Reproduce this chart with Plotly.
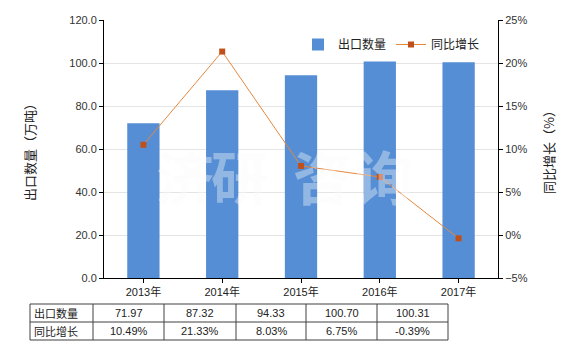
import plotly.graph_objects as go

years = ["2013年", "2014年", "2015年", "2016年", "2017年"]
export_qty = [71.97, 87.32, 94.33, 100.70, 100.31]
growth = [10.49, 21.33, 8.03, 6.75, -0.39]
qty_labels = ["71.97", "87.32", "94.33", "100.70", "100.31"]
growth_labels = ["10.49%", "21.33%", "8.03%", "6.75%", "-0.39%"]
row_names = ["出口数量", "同比增长"]

W, H = 580, 350
L, R, T, B = 104, 82, 20, 72
PW, PH = W - L - R, H - T - B

def px(x):
    return (x - L) / PW

def py(y):
    return (H - B - y) / PH

FONT = "Liberation Sans, Noto Sans CJK SC, sans-serif"
BAR = "#558ED5"
LINE = "#E6883C"
MARK = "#C0501A"

fig = go.Figure()
fig.add_trace(go.Bar(x=years, y=export_qty, name="出口数量", marker_color=BAR,
                     marker_line_width=0, yaxis="y"))
fig.add_trace(go.Scatter(x=years, y=growth, name="同比增长", mode="lines+markers",
                         line=dict(color=LINE, width=1),
                         marker=dict(symbol="square", size=6, color=MARK),
                         yaxis="y2"))

annotations = []
# watermark
for ch, cx in zip("济研咨询", [155, 240, 322, 414]):
    annotations.append(dict(text="<b>" + ch + "</b>", x=px(cx), y=py(175), xref="paper", yref="paper",
                            showarrow=False, borderpad=0,
                            font=dict(family="Noto Sans CJK SC", size=58,
                                      color="rgba(250,250,250,0.38)")))

# table
shapes = []
cols = [30, 93, 164, 236, 306, 377, 448]
rows = [304, 322, 340]
for y in rows:
    shapes.append(dict(type="line", xref="paper", yref="paper", x0=px(cols[0]), x1=px(cols[-1]),
                       y0=py(y), y1=py(y), line=dict(color="#404040", width=1)))
for x in cols:
    shapes.append(dict(type="line", xref="paper", yref="paper", x0=px(x), x1=px(x),
                       y0=py(rows[0]), y1=py(rows[-1]), line=dict(color="#404040", width=1)))

for ri, (name, vals) in enumerate(zip(row_names, [qty_labels, growth_labels])):
    yc = (rows[ri] + rows[ri + 1]) / 2
    annotations.append(dict(text=name, x=px(cols[0] + 2), y=py(yc), xref="paper", yref="paper",
                            xanchor="left", yanchor="middle", showarrow=False,
                            font=dict(family=FONT, size=11, color="#222")))
    for ci, v in enumerate(vals):
        xc = (cols[ci + 1] + cols[ci + 2]) / 2
        annotations.append(dict(text=v, x=px(xc), y=py(yc), xref="paper", yref="paper",
                                xanchor="center", yanchor="middle", showarrow=False,
                                font=dict(family=FONT, size=11, color="#222")))

fig.update_layout(
    width=W, height=H,
    margin=dict(l=L, r=R, t=T, b=B),
    paper_bgcolor="white", plot_bgcolor="white",
    font=dict(family=FONT, size=11, color="#333"),
    bargap=0.59,
    showlegend=True,
    legend=dict(orientation="h", x=px(298), y=py(30), xanchor="left", yanchor="top",
                font=dict(family=FONT, size=12, color="#222"), bgcolor="rgba(0,0,0,0)",
                itemwidth=30, tracegroupgap=0),
    xaxis=dict(showline=True, linecolor="black", linewidth=1, ticks="outside", ticklen=4,
               tickcolor="black", showgrid=False, tickfont=dict(size=11, color="#222")),
    yaxis=dict(range=[0, 120], dtick=20, tickformat=".1f", showline=True, linecolor="black",
               ticks="outside", ticklen=4, tickcolor="black", showgrid=True, gridcolor="#E4E4E4",
               zeroline=False,
               title=dict(text="出口数量（万吨）", font=dict(family="Noto Sans CJK SC", size=13, color="#222"),
                          standoff=30),
               tickfont=dict(size=11, color="#333")),
    yaxis2=dict(range=[-5, 25], dtick=5, ticksuffix="%", overlaying="y", side="right",
                showline=True, linecolor="black", ticks="outside", ticklen=4, tickcolor="black",
                showgrid=False, zeroline=False,
                title=dict(text="同比增长（%）", font=dict(family="Noto Sans CJK SC", size=13, color="#222"),
                           standoff=18),
                tickfont=dict(size=11, color="#333")),
    shapes=shapes,
    annotations=annotations,
)

fig.write_html("out.html")
